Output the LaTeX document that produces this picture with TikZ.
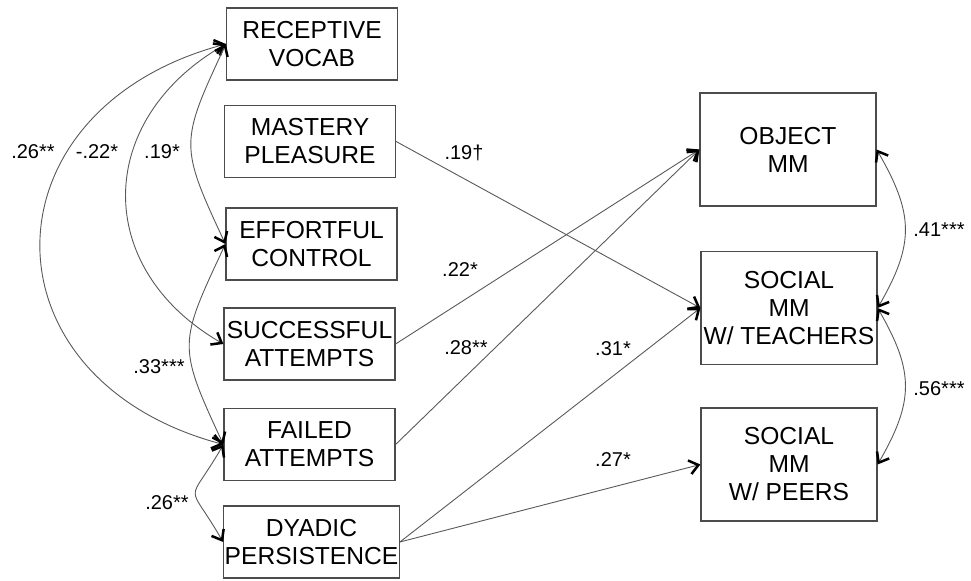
\documentclass[tikz,border=0pt]{standalone}
\usepackage{fontspec}
\setmainfont{Liberation Sans}
\usetikzlibrary{arrows.meta}

\begin{document}
\begin{tikzpicture}[x=0.5pt,y=-0.5pt,
	var/.style={draw=black!70, line width=0.6pt, align=center, inner sep=0.5pt,
		minimum width=85.5pt, minimum height=36pt, font=\fontsize{12.3}{14}\selectfont},
	outc/.style={var, minimum width=88pt, minimum height=56.5pt},
	coef/.style={inner sep=0pt, font=\fontsize{10}{12}\selectfont},
	barb/.tip={Straight Barb[length=4.5pt, width=7pt, line width=1.25pt, color=black]},
	path/.style={draw=black!65, line width=0.45pt, -{barb}},
	cov/.style={draw=black!65, line width=0.45pt, {barb}-{barb}}
	]
	\useasboundingbox (0,0) rectangle (971,581);

	% predictors
	\node[var] (recvocab) at (312,44) {RECEPTIVE\\VOCAB};
	\node[var] (mastery) at (310,141.5) {MASTERY\\PLEASURE};
	\node[var] (effort) at (311.5,244) {EFFORTFUL\\CONTROL};
	\node[var] (success) at (309.5,344) {SUCCESSFUL\\ATTEMPTS};
	\node[var] (failed) at (309.5,444.5) {FAILED\\ATTEMPTS};
	\node[var] (dyadic) at (311.5,542) {DYADIC\\PERSISTENCE};

	% outcomes
	\node[outc] (object) at (788,149.5) {OBJECT\\MM};
	\node[outc] (teachers) at (789,308) {SOCIAL\\MM\\W/ TEACHERS};
	\node[outc] (peers) at (789,464.5) {SOCIAL\\MM\\W/ PEERS};

	% covariances
	\draw[cov] (recvocab.west) to[out=195,in=165,looseness=1.62] (failed.west);
	\draw[cov] (recvocab.west) to[out=210,in=150,looseness=1.29] (success.west);
	\draw[cov] (recvocab.west) to[out=245,in=115,looseness=1.39] (effort.west);
	\draw[cov] (effort.west) to[out=245,in=115,looseness=1.4] (failed.west);
	\draw[cov] (failed.west) to[out=240,in=120,looseness=1.93] (dyadic.west);
	\draw[cov] (object.east) to[out=300,in=60,looseness=1.2] (teachers.east);
	\draw[cov] (teachers.east) to[out=300,in=60,looseness=1.2] (peers.east);

	% paths
	\draw[path] (mastery.east) -- (teachers.west);
	\draw[path] (success.east) -- (object.west);
	\draw[path] (failed.east) -- (object.west);
	\draw[path] (dyadic.east) -- (teachers.west);
	\draw[path] (dyadic.east) -- (peers.west);

	% coefficients
	\node[coef] (c-rv-fa) at (33,152) {.26**};
	\node[coef] (c-rv-sa) at (97,152) {-.22*};
	\node[coef] (c-rv-ec) at (162,152) {.19*};
	\node[coef] (c-ec-fa) at (159,367) {.33***};
	\node[coef] (c-fa-dp) at (167,503) {.26**};
	\node[coef] (c-om-st) at (939,230) {.41***};
	\node[coef] (c-st-sp) at (939,389) {.56***};
	\node[coef] (c-mp-st) at (464,153) {.19†};
	\node[coef] (c-sa-om) at (460,270) {.22*};
	\node[coef] (c-fa-om) at (466,348) {.28**};
	\node[coef] (c-dp-st) at (613,349) {.31*};
	\node[coef] (c-dp-sp) at (613,460) {.27*};
\end{tikzpicture}
\end{document}
